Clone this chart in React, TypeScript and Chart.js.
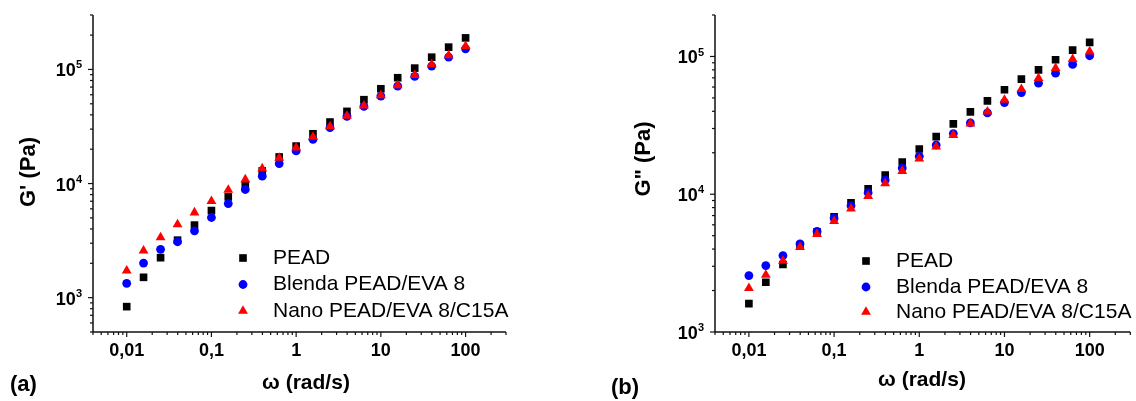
import React, { useEffect, useRef } from "react";
import { Chart, registerables } from "chart.js";

Chart.register(...registerables);

const FONT = '"Liberation Sans", Arial, Helvetica, sans-serif';

// ---------- data ----------
const omega = [0.01, 0.0158, 0.0251, 0.0398, 0.0631, 0.1, 0.158, 0.251, 0.398, 0.631, 1, 1.58, 2.51, 3.98, 6.31, 10, 15.8, 25.1, 39.8, 63.1, 100];

const gPrimePEAD = [834, 1507, 2240, 3190, 4325, 5800, 7640, 9800, 12900, 17100, 21300, 27300, 34600, 42900, 54300, 67700, 84600, 102700, 128000, 156800, 189000];
const gPrimeBlenda = [1335, 2010, 2650, 3090, 3850, 5040, 6680, 8870, 11600, 14960, 19300, 24400, 30900, 38800, 47500, 58400, 71500, 86800, 107000, 128000, 151700];
const gPrimeNano = [1722, 2580, 3370, 4380, 5570, 7000, 8800, 10840, 13530, 16760, 20640, 25600, 31700, 39100, 48100, 59300, 72500, 89200, 110600, 132500, 160000];

const gDoublePEAD = [1607, 2296, 3090, 4250, 5340, 6860, 8670, 10960, 13780, 17130, 21300, 26200, 32400, 39600, 47600, 57300, 68500, 80000, 94600, 111200, 126500];
const gDoubleBlenda = [2570, 3036, 3590, 4366, 5370, 6710, 8250, 10250, 12680, 15500, 18840, 22770, 27550, 32950, 38950, 46270, 54700, 63950, 75600, 87500, 101200];
const gDoubleNano = [2080, 2600, 3285, 4130, 5130, 6380, 7850, 9700, 12000, 14730, 18100, 22140, 26900, 32600, 39800, 48400, 57850, 69500, 82200, 95700, 108600];

const seriesNames = ["PEAD", "Blenda PEAD/EVA 8", "Nano PEAD/EVA 8/C15A"];
const seriesColors = ["#000000", "#0000ff", "#ff0000"];
const seriesShapes = ["rect", "circle", "triangle"];

const xTickValues = [0.01, 0.1, 1, 10, 100];
const xTickLabels = ["0,01", "0,1", "1", "10", "100"];
const yTickValues = [1000, 10000, 100000];
const yTickExponents = ["3", "4", "5"];

const xRange = [0.004, 300];
const yRangeA = [500, 300000];
const yRangeB = [1000, 200000];

// ---------- helpers ----------
const RADIUS: Record<string, number> = { rect: 5.4, circle: 4.4, triangle: 5.7 };

function logTicks(min: number, max: number): { v: number; major: boolean }[] {
  const out: { v: number; major: boolean }[] = [];
  const k0 = Math.floor(Math.log10(min));
  const k1 = Math.ceil(Math.log10(max));
  for (let k = k0; k <= k1; k++) {
    for (let d = 1; d <= 9; d++) {
      const v = d * Math.pow(10, k);
      if (v >= min * 0.9999 && v <= max * 1.0001) out.push({ v, major: d === 1 });
    }
  }
  return out;
}

function drawMarker(ctx: CanvasRenderingContext2D, shape: string, x: number, y: number, color: string) {
  const r = RADIUS[shape];
  ctx.fillStyle = color;
  ctx.beginPath();
  if (shape === "rect") {
    const s = r / Math.SQRT2;
    ctx.rect(x - s, y - s, 2 * s, 2 * s);
  } else if (shape === "circle") {
    ctx.arc(x, y, r, 0, Math.PI * 2);
  } else {
    ctx.moveTo(x, y - r);
    ctx.lineTo(x + r * Math.sin((2 * Math.PI) / 3), y - r * Math.cos((2 * Math.PI) / 3));
    ctx.lineTo(x + r * Math.sin((4 * Math.PI) / 3), y - r * Math.cos((4 * Math.PI) / 3));
    ctx.closePath();
  }
  ctx.fill();
}

type PanelCfg = {
  left: number;
  width: number;
  padding: { left: number; right: number; top: number; bottom: number };
  yRange: number[];
  series: number[][];
  yTitle: string;
  yTitlePos: [number, number];
  xTitlePos: [number, number];
  panelLabel: string;
  panelLabelPos: [number, number];
  legendMarkerX: number;
  legendTextX: number;
  legendRows: number[];
};

function makeOverlay(cfg: PanelCfg) {
  return {
    id: "overlay",
    afterDraw(chart: any) {
      const ctx: CanvasRenderingContext2D = chart.ctx;
      const a = chart.chartArea;
      const xs = chart.scales.x;
      const ys = chart.scales.y;
      ctx.save();
      ctx.strokeStyle = "#111";
      ctx.lineWidth = 1.5;
      ctx.beginPath();
      ctx.moveTo(a.left, a.top);
      ctx.lineTo(a.left, a.bottom);
      ctx.lineTo(a.right, a.bottom);
      ctx.stroke();

      ctx.lineWidth = 1.2;
      for (const t of logTicks(xRange[0], xRange[1])) {
        const px = xs.getPixelForValue(t.v);
        ctx.beginPath();
        ctx.moveTo(px, a.bottom);
        ctx.lineTo(px, a.bottom + (t.major ? 5 : 3));
        ctx.stroke();
      }
      for (const t of logTicks(cfg.yRange[0], cfg.yRange[1])) {
        const py = ys.getPixelForValue(t.v);
        ctx.beginPath();
        ctx.moveTo(a.left, py);
        ctx.lineTo(a.left - (t.major ? 5 : 3), py);
        ctx.stroke();
      }

      ctx.fillStyle = "#000";
      ctx.font = `bold 18px ${FONT}`;
      ctx.textAlign = "center";
      ctx.textBaseline = "middle";
      xTickValues.forEach((v, i) => {
        ctx.fillText(xTickLabels[i], xs.getPixelForValue(v), a.bottom + 19);
      });

      yTickValues.forEach((v, i) => {
        const py = ys.getPixelForValue(v);
        ctx.font = `bold 11px ${FONT}`;
        const ew = ctx.measureText(yTickExponents[i]).width;
        ctx.font = `bold 18px ${FONT}`;
        const tw = ctx.measureText("10").width;
        const right = a.left - 11;
        ctx.textAlign = "left";
        ctx.textBaseline = "middle";
        ctx.fillText("10", right - ew - tw, py + 2);
        ctx.font = `bold 11px ${FONT}`;
        ctx.fillText(yTickExponents[i], right - ew, py - 4);
      });

      // axis titles
      ctx.font = `bold 21px ${FONT}`;
      ctx.textAlign = "center";
      ctx.textBaseline = "middle";
      ctx.fillText("\u03c9 (rad/s)", cfg.xTitlePos[0], cfg.xTitlePos[1]);
      ctx.save();
      ctx.translate(cfg.yTitlePos[0], cfg.yTitlePos[1]);
      ctx.rotate(-Math.PI / 2);
      ctx.font = `bold 22px ${FONT}`;
      ctx.fillText(cfg.yTitle, 0, 0);
      ctx.restore();

      ctx.font = `bold 22px ${FONT}`;
      ctx.textAlign = "left";
      ctx.fillText(cfg.panelLabel, cfg.panelLabelPos[0], cfg.panelLabelPos[1]);

      // legend
      ctx.font = `21px ${FONT}`;
      seriesNames.forEach((name, i) => {
        const y = cfg.legendRows[i];
        drawMarker(ctx, seriesShapes[i], cfg.legendMarkerX, y, seriesColors[i]);
        ctx.fillStyle = "#000";
        ctx.fillText(name, cfg.legendTextX, y);
      });
      ctx.restore();
    },
  };
}

function Panel({ cfg }: { cfg: PanelCfg }) {
  const ref = useRef<HTMLCanvasElement>(null);
  useEffect(() => {
    const datasets = cfg.series.map((vals, i) => ({
      label: seriesNames[i],
      data: omega.map((x, j) => ({ x, y: vals[j] })),
      pointStyle: seriesShapes[i] as any,
      pointRadius: RADIUS[seriesShapes[i]],
      pointBorderWidth: 0,
      pointBackgroundColor: seriesColors[i],
      pointBorderColor: seriesColors[i],
      showLine: false,
      order: 3 - i,
    }));
    const chart = new Chart(ref.current as HTMLCanvasElement, {
      type: "scatter",
      data: { datasets },
      options: {
        animation: false,
        responsive: false,
        devicePixelRatio: 1,
        events: [],
        layout: { padding: cfg.padding },
        plugins: { legend: { display: false }, tooltip: { enabled: false } },
        scales: {
          x: { type: "logarithmic", min: xRange[0], max: xRange[1], display: false },
          y: { type: "logarithmic", min: cfg.yRange[0], max: cfg.yRange[1], display: false },
        },
      },
      plugins: [makeOverlay(cfg)],
    } as any);
    return () => chart.destroy();
  }, []);
  return (
    <canvas
      ref={ref}
      width={cfg.width}
      height={401}
      style={{ position: "absolute", left: cfg.left, top: 0, width: cfg.width, height: 401 }}
    />
  );
}

const panelA: PanelCfg = {
  left: 0,
  width: 600,
  padding: { left: 93, right: 94, top: 15, bottom: 69 },
  yRange: yRangeA,
  series: [gPrimePEAD, gPrimeBlenda, gPrimeNano],
  yTitle: "G' (Pa)",
  yTitlePos: [28.5, 172],
  xTitlePos: [306, 383],
  panelLabel: "(a)",
  panelLabelPos: [10, 385],
  legendMarkerX: 243,
  legendTextX: 273,
  legendRows: [258, 284.5, 311],
};

const panelB: PanelCfg = {
  left: 600,
  width: 536,
  padding: { left: 115, right: 4, top: 15, bottom: 69 },
  yRange: yRangeB,
  series: [gDoublePEAD, gDoubleBlenda, gDoubleNano],
  yTitle: 'G" (Pa)',
  yTitlePos: [44, 159],
  xTitlePos: [322, 380],
  panelLabel: "(b)",
  panelLabelPos: [11, 388],
  legendMarkerX: 266,
  legendTextX: 296,
  legendRows: [261, 287, 312],
};

export default function App() {
  return (
    <div style={{ position: "absolute", left: 0, top: 0, width: 1136, height: 401, background: "#fff", overflow: "hidden" }}>
      <Panel cfg={panelA} />
      <Panel cfg={panelB} />
    </div>
  );
}
